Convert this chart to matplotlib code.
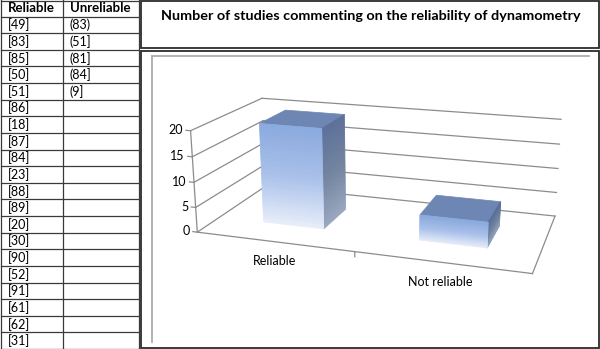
import matplotlib
matplotlib.use("Agg")
import matplotlib.pyplot as plt
import numpy as np
from matplotlib.colors import LinearSegmentedColormap, to_rgba
from matplotlib.patches import Rectangle

plt.rcParams["font.family"] = ["Lato", "DejaVu Sans"]

# table data
reliable_refs = ["[49]", "[83]", "[85]", "[50]", "[51]", "[86]", "[18]", "[87]", "[84]", "[23]",
                 "[88]", "[89]", "[20]", "[30]", "[90]", "[52]", "[91]", "[61]", "[62]", "[31]"]
unreliable_refs = ["(83)", "(51]", "(81]", "(84]", "(9]"]
table_headers = ["Reliable", "Unreliable"]

# chart data
categories = ["Reliable", "Not reliable"]
counts = [20, 5]
value_ticks = [0, 5, 10, 15, 20]
title = "Number of studies commenting on the reliability of dynamometry"

W, H = 600, 349
fig = plt.figure(figsize=(W / 100, H / 100), dpi=100)

# background layer in pixel units (table + boxes)
bg = fig.add_axes([0, 0, 1, 1])
bg.set_xlim(0, W)
bg.set_ylim(H, 0)
bg.axis("off")

# --- left table ---
n_rows = len(reliable_refs) + 1
row_h = H / n_rows
col_x = [0.5, 62.7, 138.5]
line_kw = dict(color="#3a3a3a", lw=0.9)
for r in range(n_rows + 1):
    yy = min(max(r * row_h, 0.5), H - 0.5)
    bg.plot([col_x[0], col_x[-1]], [yy, yy], **line_kw)
for xx in col_x:
    bg.plot([xx, xx], [0, H], **line_kw)

for j, head in enumerate(table_headers):
    bg.text(col_x[j] + 7.5, row_h / 2, head, fontsize=9.5, fontweight="bold",
            va="center", ha="left")
for i, ref in enumerate(reliable_refs):
    bg.text(col_x[0] + 7.5, (i + 1.5) * row_h, ref, fontsize=9, va="center", ha="left")
for i, ref in enumerate(unreliable_refs):
    bg.text(col_x[1] + 6.5, (i + 1.5) * row_h, ref, fontsize=9, va="center", ha="left")

# --- title and chart boxes ---
bg.add_patch(Rectangle((140.5, 0.8), 458, 47.5, fill=False, ec="#2b2b2b", lw=1.3))
bg.add_patch(Rectangle((140.5, 50.5), 458, 297, fill=False, ec="#2b2b2b", lw=1.3))
bg.plot([152, 589], [56, 56], color="#a6a6a6", lw=1.2)
bg.plot([152, 152], [56, 342], color="#a6a6a6", lw=1.2)
bg.text(371, 16, title, fontsize=10.4, fontweight="bold", ha="center", va="center")

# --- 3D column chart ---
S = 500
cx, cy = 374, 182
ax = fig.add_axes([(cx - S / 2) / W, (H - cy - S / 2) / H, S / W, S / H],
                  projection="3d", computed_zorder=False)
ax.patch.set_visible(False)
ax.set_axis_off()
ax.set_xlim(0, len(categories))
ax.set_ylim(0, 1)
ax.set_zlim(0, max(value_ticks))
ax.set_box_aspect((3.2, 1.52, 1), zoom=0.74)
ax.set_proj_type("persp", focal_length=0.32)
ax.view_init(elev=17, azim=-72)

grid_c = "#8c8c8c"
xmax = len(categories)
for v in value_ticks:
    ax.plot([0, 0], [0, 1], [v, v], color=grid_c, lw=0.9, zorder=1)
    ax.plot([0, xmax], [1, 1], [v, v], color=grid_c, lw=0.9, zorder=1)
    ax.plot([0, -0.03], [0, 0], [v, v], color=grid_c, lw=0.9, zorder=1)
    ax.text(-0.05, 0, v, str(v), ha="right", va="center", fontsize=9, zorder=5)
ax.plot([0, 0], [0, 0], [0, max(value_ticks)], color=grid_c, lw=0.9, zorder=1)
ax.plot([0, xmax], [0, 0], [0, 0], color=grid_c, lw=0.9, zorder=2)
ax.plot([xmax, xmax], [0, 1], [0, 0], color=grid_c, lw=0.9, zorder=2)
for k in range(1, xmax):
    ax.plot([k, k], [0, 0], [0, -1], color=grid_c, lw=0.9, zorder=2)
for i, name in enumerate(categories):
    ax.text(i + 0.5, 0, -2.6, name, ha="center", va="top", fontsize=9, zorder=5)

# bars with vertical gradient, built from thin slices
front_cm = LinearSegmentedColormap.from_list("front", ["#e8eefa", "#a9c1ea", "#8aa9de"])
side_cm = LinearSegmentedColormap.from_list("side", ["#9aa8c0", "#73849f", "#5c7099"])
top_c = to_rgba("#6e86b4")
clear = (1, 1, 1, 0)
n_slices = 40
bw, bd, by = 0.4, 0.4, 0.3
xs, ys, zs, dzs, fcols = [], [], [], [], []
for i, h in enumerate(counts):
    edges = np.linspace(0, h, n_slices + 1)
    for s in range(n_slices):
        t = (s + 0.5) / n_slices
        xs.append(i + 0.5 - bw / 2)
        ys.append(by)
        zs.append(edges[s])
        dzs.append(edges[s + 1] - edges[s])
        top = top_c if s == n_slices - 1 else clear
        # face order: -z, +z, -y, +y, -x, +x
        fcols.extend([clear, top, front_cm(t), clear, clear, side_cm(t)])
ax.bar3d(xs, ys, zs, bw, bd, dzs, color=fcols, shade=False,
         edgecolor=fcols, linewidth=0.5, zorder=3)

fig.savefig("out.png", dpi=100)
